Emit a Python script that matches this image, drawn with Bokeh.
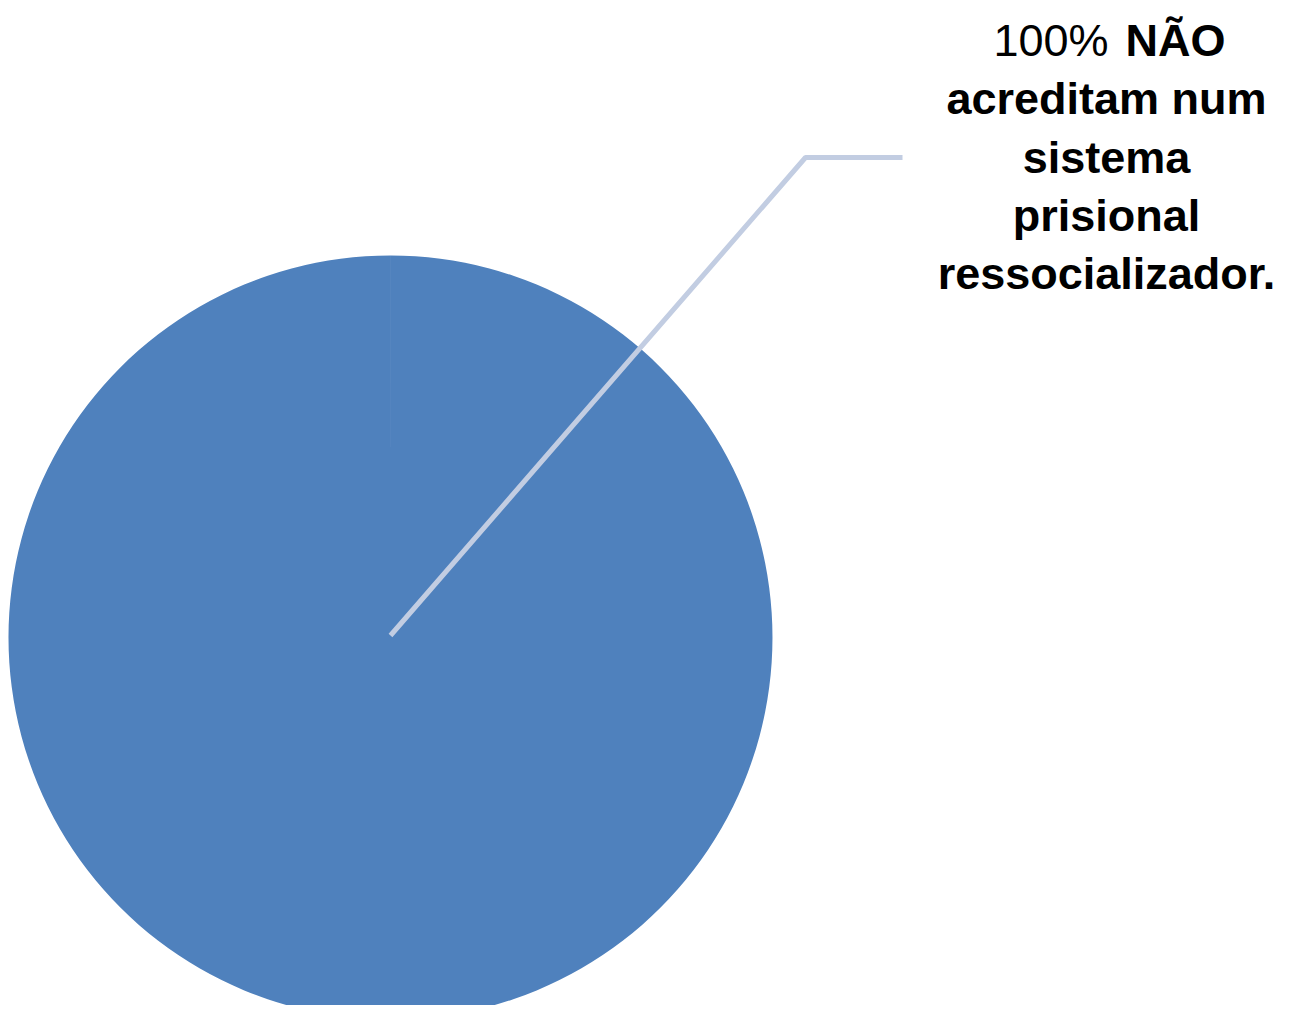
import math
from bokeh.plotting import figure
from bokeh.models import ColumnDataSource, Range1d
from bokeh.core.properties import value
from bokeh.embed import file_html
from bokeh.resources import INLINE

# ---- data ----
categories = ["NÃO acreditam num sistema prisional ressocializador."]
percentages = [100]
label_head_regular = "100%"
label_head_bold = "NÃO"
label_lines = ["acreditam num", "sistema", "prisional", "ressocializador."]

# ---- layout (pixel-like data units) ----
W, H = 1285, 1005
CX, CY, R = 390, 368, 382
PIE_COLOR = "#4f81bd"
LEADER_COLOR = "#c2cde2"

total = float(sum(percentages))
starts, ends = [], []
acc = 0.0
EPS = 1e-4
for v in percentages:
    s = math.pi / 2 - 2 * math.pi * acc / total
    span = min(2 * math.pi * v / total, 2 * math.pi - EPS)
    acc += v
    starts.append(s)
    ends.append(s - span)

src = ColumnDataSource(dict(cat=categories, pct=percentages, start=starts, end=ends,
                            x=[CX] * len(categories), y=[CY] * len(categories)))

p = figure(width=W, height=H, output_backend="svg", toolbar_location=None,
           x_range=Range1d(0, W), y_range=Range1d(0, H),
           x_axis_location=None, y_axis_location=None, min_border=0,
           outline_line_color=None, background_fill_color="white",
           border_fill_color="white")
p.xgrid.visible = False
p.ygrid.visible = False

p.wedge(x="x", y="y", radius=R, start_angle="start", end_angle="end",
        direction="clock", fill_color=PIE_COLOR, line_color=None, source=src)

# leader line from slice centre to label
p.line(x=[CX, 805, 902], y=[CY + 2, 848, 848], line_color=LEADER_COLOR, line_width=5)

# label text
FONT = "Liberation Sans"
TX = 1106
base0 = 965
step = 58.3
p.text(x=[1108], y=[base0], text=[label_head_regular], text_align="right",
       text_baseline="alphabetic", text_font=value(FONT), text_font_size="45px",
       text_color="black")
p.text(x=[1125], y=[base0], text=[label_head_bold], text_align="left",
       text_baseline="alphabetic", text_font=value(FONT), text_font_size="45px",
       text_font_style="bold", text_color="black")
ys = [base0 - step * (i + 1) for i in range(len(label_lines))]
p.text(x=[TX] * len(label_lines), y=ys, text=label_lines, text_align="center",
       text_baseline="alphabetic", text_font=value(FONT), text_font_size="45px",
       text_font_style="bold", text_color="black")

open("out.html", "w").write(file_html(p, INLINE))
